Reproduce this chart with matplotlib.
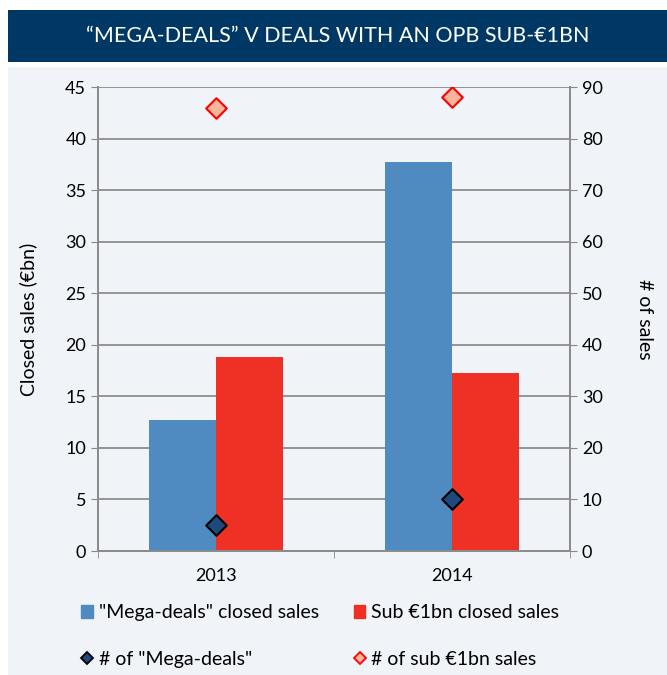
import numpy as np
import matplotlib.pyplot as plt
from matplotlib.patches import Rectangle
from matplotlib.lines import Line2D

years = ["2013", "2014"]
mega_sales = [12.7, 37.7]
sub_sales = [18.8, 17.3]
mega_count = [5, 10]
sub_count = [86, 88]

plt.rcParams['font.family'] = ['Lato', 'DejaVu Sans']

W, H = 667, 675
fig = plt.figure(figsize=(W / 100, H / 100), dpi=100)
bg = "#F0F4F8"

# panel background and title bar
fig.patches.append(Rectangle((8 / W, 0), 1 - 8 / W, 1 - 67 / H, transform=fig.transFigure,
                             facecolor=bg, edgecolor="none", zorder=-2))
fig.patches.append(Rectangle((8 / W, 1 - 62 / H), 1 - 8 / W, 52 / H, transform=fig.transFigure,
                             facecolor="#003865", edgecolor="none", zorder=-2))
fig.text((8 + W) / 2 / W, 1 - 36 / H, "\u201cMEGA-DEALS\u201d V DEALS WITH AN OPB SUB-\u20ac1BN",
         color="white", fontsize=15.5, ha="center", va="center")

ax = fig.add_axes([98 / W, 1 - 551 / H, (570 - 98) / W, (551 - 87) / H])
ax.set_facecolor(bg)
ax2 = ax.twinx()

x = np.arange(len(years))
bw = 0.285
ax.bar(x - bw / 2, mega_sales, bw, color="#4F8BC0", zorder=2)
ax.bar(x + bw / 2, sub_sales, bw, color="#EE3124", zorder=2)

ax2.scatter(x, mega_count, marker="D", s=110, facecolor="#1F497D", edgecolor="black",
            linewidth=1.5, zorder=3)
ax2.scatter(x, sub_count, marker="D", s=110, facecolor="#F9B49A", edgecolor="red",
            linewidth=1.5, zorder=3)

ax.set_xlim(-0.5, 1.5)
ax.set_ylim(0, 45)
ax.set_yticks(range(0, 46, 5))
ax2.set_ylim(0, 90)
ax2.set_yticks(range(0, 91, 10))
ax.set_xticks(x)
ax.set_xticklabels(years)
ax.set_xticks([-0.5, 0.5, 1.5], minor=True)
ax.tick_params(axis="x", which="major", length=0, pad=12, labelsize=13)
ax.tick_params(axis="x", which="minor", length=5, color="#888888")
ax.tick_params(axis="y", length=5, color="#888888", labelsize=13)
ax2.tick_params(axis="y", length=5, color="#888888", labelsize=13)
ax.grid(axis="y", color="#8C8C8C", linewidth=1.3, zorder=1)
ax.set_axisbelow(True)

for a in (ax, ax2):
    a.spines["top"].set_visible(False)
    for s in ("left", "right", "bottom"):
        a.spines[s].set_color("#8C8C8C")
        a.spines[s].set_linewidth(1.3)

ax.set_ylabel("Closed sales (\u20acbn)", fontsize=14, labelpad=20)
ax2.set_ylabel("# of sales", fontsize=14, rotation=270, labelpad=36)

handles = [
    Rectangle((0, 0), 1, 1, color="#4F8BC0"),
    Line2D([], [], marker="D", ls="none", ms=6, mfc="#1F497D", mec="black", mew=1.3),
    Rectangle((0, 0), 1, 1, color="#EE3124"),
    Line2D([], [], marker="D", ls="none", ms=6, mfc="#F9B49A", mec="red", mew=1.3),
]
labels = ['"Mega-deals" closed sales', '# of "Mega-deals"',
          "Sub \u20ac1bn closed sales", "# of sub \u20ac1bn sales"]
fig.legend(handles, labels, ncol=2, loc="center", bbox_to_anchor=(0.48, 1 - 636 / H),
           frameon=False, fontsize=14, handlelength=0.6, handleheight=0.7,
           handletextpad=0.3, columnspacing=1.8, labelspacing=1.5)

fig.savefig("out.png", dpi=100)
